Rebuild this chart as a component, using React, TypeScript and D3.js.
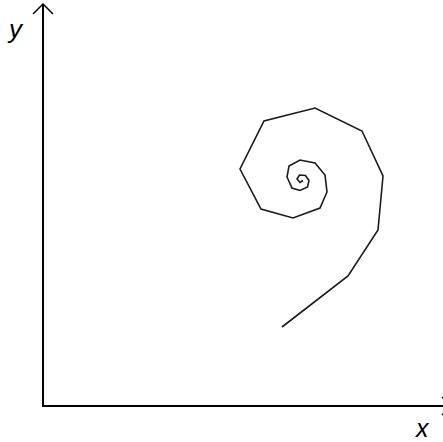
import React from "react";
import * as d3 from "d3";

// Spiral vertices (data units, origin at axes corner)
const spiralX = [240, 306, 336, 341, 320, 273, 222, 198, 219, 251, 278, 285, 283, 273, 258, 247, 245, 250, 258, 265.5, 267, 263.5, 257.5, 255, 258, 261];
const spiralY = [79, 130, 176, 230, 275, 298, 285, 237, 197, 188, 198, 214, 231, 243, 246, 240, 229, 218, 215.5, 219, 225.5, 230.5, 231, 227, 223.5, 225.5];
const xDomain = [0, 400];
const yDomain = [0, 400];
const xLabel = "x";
const yLabel = "y";

export default function App() {
  const W = 443, H = 442;
  const x = d3.scaleLinear().domain(xDomain).range([42, 442]);
  const y = d3.scaleLinear().domain(yDomain).range([406, 6]);
  const pts: [number, number][] = spiralX.map((v, i) => [x(v), y(spiralY[i])]);
  const line = d3.line()(pts) || "";
  const ox = x(0), oy = y(0);
  const yTop = 4;
  const xEnd = 452;
  return (
    <svg width={W} height={H} style={{ position: "absolute", left: 0, top: 0, background: "#fff" }}>
      <rect width={W} height={H} fill="#fff" />
      {/* axes */}
      <line x1={ox + 1} y1={oy} x2={ox + 1} y2={yTop} stroke="#000" strokeWidth={2} />
      <line x1={ox} y1={oy} x2={xEnd} y2={oy} stroke="#000" strokeWidth={2} />
      {/* arrowheads */}
      <path d={`M${ox - 9},${yTop + 10} L${ox + 1},${yTop} L${ox + 11},${yTop + 10}`} fill="none" stroke="#000" strokeWidth={1.5} />
      <path d={`M${xEnd - 10},${oy - 9} L${xEnd},${oy} L${xEnd - 10},${oy + 9}`} fill="none" stroke="#000" strokeWidth={1.5} />
      {/* labels */}
      <text x={9} y={37.5} fontFamily="Liberation Sans, Arial, sans-serif" fontStyle="italic" fontSize={26} fill="#000">{yLabel}</text>
      <text x={416} y={437} fontFamily="Liberation Sans, Arial, sans-serif" fontStyle="italic" fontSize={25} fill="#000">{xLabel}</text>
      {/* spiral */}
      <path d={line} fill="none" stroke="#1a1a1a" strokeWidth={1.6} strokeLinejoin="miter" />
    </svg>
  );
}
